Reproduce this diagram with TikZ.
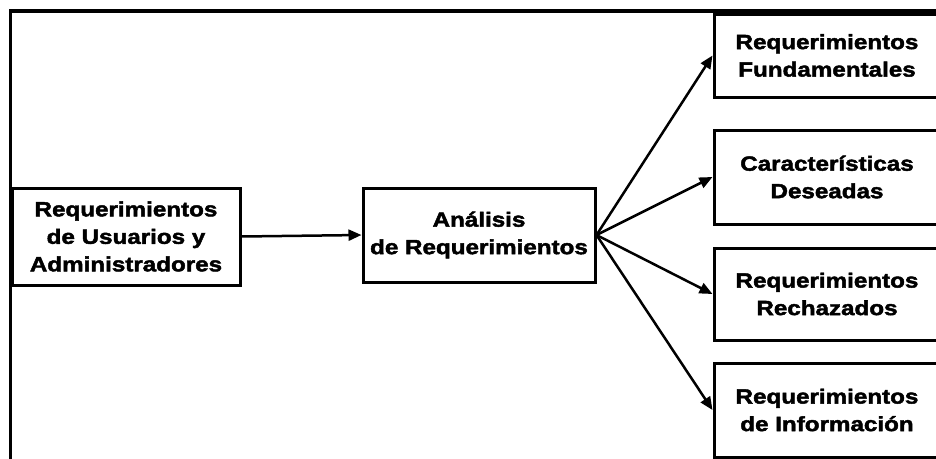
\documentclass[tikz,border=0pt]{standalone}
\usepackage{fontspec}
\setmainfont[FakeStretch=1.18,FakeBold=2.2]{Liberation Sans}
\usetikzlibrary{arrows.meta}
\tikzset{
  caja/.style={draw, line width=3pt, inner sep=0pt, align=center,
    font=\bfseries\fontsize{20.5}{27.5}\selectfont},
  flecha/.style={line width=2.5pt, -{Triangle[length=13pt,width=11pt]}}
}
\begin{document}
\begin{tikzpicture}[x=1pt,y=-1pt]
        \useasboundingbox (0,0) rectangle (936,458);
        \clip (0,0) rectangle (936,458);
        \draw[line width=3.5pt] (10.5,470) -- (10.5,11) -- (950,11);
        \node[caja, minimum width=228pt, minimum height=97pt] (usr) at (126,236.5) {Requerimientos\\de Usuarios y\\Administradores};
        \node[caja, minimum width=232pt, minimum height=94pt] (ana) at (479,235) {Análisis\\de Requerimientos};
        \node[caja, minimum width=226pt, minimum height=83pt] (fund) at (827,55.5) {Requerimientos\\Fundamentales};
        \node[caja, minimum width=226pt, minimum height=94pt] (car) at (827,177) {Características\\Deseadas};
        \node[caja, minimum width=226pt, minimum height=92pt] (rech) at (827,294) {Requerimientos\\Rechazados};
        \node[caja, minimum width=226pt, minimum height=94pt] (info) at (827,410) {Requerimientos\\de Información};
        \draw[flecha] (usr.east) -- (ana.west);
        \draw[flecha] (ana.east) -- (fund.west);
        \draw[flecha] (ana.east) -- (car.west);
        \draw[flecha] (ana.east) -- (rech.west);
        \draw[flecha] (ana.east) -- (info.west);
    \end{tikzpicture}
\end{document}
